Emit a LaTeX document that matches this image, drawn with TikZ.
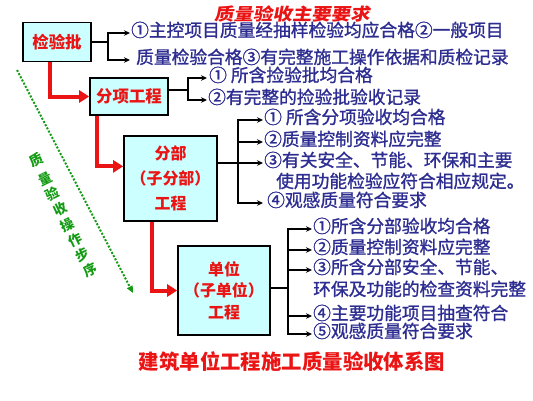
\documentclass[tikz,border=0pt]{standalone}
\usepackage{fontspec}
\setmainfont{Noto Sans CJK SC}
\newfontfamily\ttlfont[FakeSlant=0.18,FakeStretch=1.15]{Noto Sans CJK SC}
\newfontfamily\itemfont[FakeBold=1.2]{Noto Sans CJK SC}
\usetikzlibrary{arrows.meta,calc}
\definecolor{boxfill}{HTML}{CCFFFF}
\definecolor{bred}{RGB}{235,20,20}
\definecolor{navy}{RGB}{45,45,145}
\definecolor{dgreen}{RGB}{20,155,20}
\begin{document}
\begin{tikzpicture}[x=1bp,y=-1bp,
 box/.style={draw=black,line width=1.6bp,fill=boxfill,text=bred,align=center,inner sep=0pt},
 item/.style={anchor=west,inner xsep=1bp,inner ysep=0pt,text=navy,font=\fontsize{17.8}{20}\itemfont\selectfont,text height=0.8em,text depth=0.06em},
 conn/.style={line width=1.6bp,draw=black,-{Stealth[length=6bp,width=5.5bp]}},
 flow/.style={line width=4bp,draw=bred,-{Triangle[length=10bp,width=12bp]}},
]
\useasboundingbox (0,0) rectangle (533,400);

% boxes
\node[box,minimum width=68bp,minimum height=39bp,font=\fontsize{16.5}{20}\selectfont\bfseries] (b1) at (57,42) {检验批};
\node[box,minimum width=78bp,minimum height=37bp,font=\fontsize{16.5}{20}\selectfont\bfseries] (b2) at (129,96.5) {分项工程};
\node[box,minimum width=93bp,minimum height=85bp,font=\fontsize{16}{25}\selectfont\bfseries] (b3) at (170.5,178.5) {分部\\（子分部）\\工程};
\node[box,minimum width=92bp,minimum height=89bp,font=\fontsize{16}{21.5}\selectfont\bfseries] (b4) at (224,290.5) {单位\\（子单位）\\工程};

% titles
\node[text=bred,inner sep=0pt,font=\fontsize{17}{18}\ttlfont\selectfont\bfseries] (title) at (292,14) {质量验收主要要求};
\node[text=bred,font=\fontsize{20.5}{22}\selectfont\bfseries] (caption) at (292,362) {建筑单位工程施工质量验收体系图};

% items of b1
\node[item] (t11) at (130,33) {①主控项目质量经抽样检验均应合格②一般项目};
\node[item,inner xsep=6bp] (t12) at (130,60) {质量检验合格③有完整施工操作依据和质检记录};
% items of b2
\node[item,inner xsep=2bp] (t21) at (207,78) {① 所含捡验批均合格};
\node[item,inner xsep=1bp] (t22) at (207,100) {②有完整的捡验批验收记录};
% items of b3
\node[item] (t31) at (263,120) {① 所含分项验收均合格};
\node[item] (t32) at (263,142) {②质量控制资料应完整};
\node[item] (t33) at (263,163) {③有关安全、节能、环保和主要};
\node[item] (t33b) at (275,184) {使用功能检验应符合相应规定。};
\node[item,inner xsep=4bp] (t34) at (263,203) {④观感质量符合要求};
% items of b4
\node[item] (t41) at (312,229) {①所含分部验收均合格};
\node[item] (t42) at (312,250) {②质量控制资料应完整};
\node[item] (t43) at (312,270) {③所含分部安全、节能、};
\node[item] (t43b) at (312,292) {环保及功能的检查资料完整};
\node[item] (t44) at (312,316) {④主要功能项目抽查符合};
\node[item] (t45) at (312,334) {⑤观感质量符合要求};

% black connectors
\draw[conn] (b1.east) -- ++(16,0) |- (t11.west);
\draw[conn] (b1.east) -- ++(16,0) |- (t12.west);
\coordinate (b2o) at ([yshift=6.5bp]b2.east);
\draw[conn] (b2o) -- ++(19,0) |- (t21.west);
\draw[conn] (b2o) -- ++(19,0) |- (t22.west);
\coordinate (b3o) at ([yshift=15.5bp]b3.east);
\draw[conn] (b3o) -- ++(20,0) |- (t31.west);
\draw[conn] (b3o) -- ++(20,0) |- (t32.west);
\draw[conn] (b3o) -- ++(20,0) |- (t33.west);
\draw[conn] (b3o) -- ++(20,0) |- (t34.west);
\coordinate (b4o) at ([yshift=2.5bp]b4.east);
\draw[conn] (b4o) -- ++(17,0) |- (t41.west);
\draw[conn] (b4o) -- ++(17,0) |- (t42.west);
\draw[conn] (b4o) -- ++(17,0) |- (t43.west);
\draw[conn] (b4o) -- ++(17,0) |- (t44.west);
\draw[conn] (b4o) -- ++(17,0) |- (t45.west);

% red flow
\draw[flow] ([xshift=-7bp]b1.south) |- (b2.west);
\draw[flow] ([xshift=8bp]b2.south west) |- ($(b3.north west)!0.36!(b3.south west)$);
\draw[flow] ([xshift=29bp]b3.south west) |- (b4.west);

% green step arrow
\coordinate (g1) at (17,70);
\coordinate (g2) at (133,293);
\draw[dgreen,line width=2bp,dash pattern=on 2bp off 1.6bp,-{Triangle[length=7bp,width=6bp]}] (g1) -- (g2);
\node[rotate=26,text=dgreen,align=center,inner sep=0pt,font=\fontsize{13.5}{17}\selectfont\bfseries] (gt) at (63,215) {质\\[4bp]量\\验\\收\\操\\作\\步\\序};
\end{tikzpicture}
\end{document}
